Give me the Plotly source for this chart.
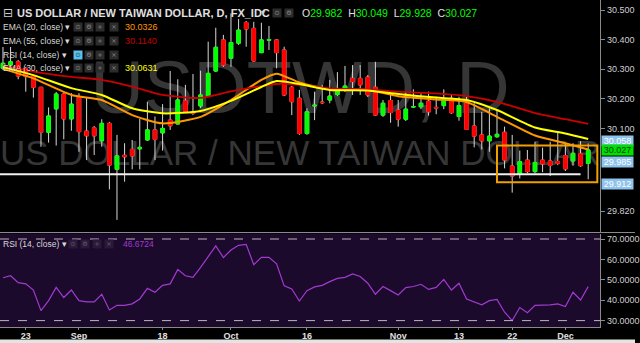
import plotly.graph_objects as go

W, H = 640, 343
PLOT_R = 605  # right edge of plotting area (px)

# ---------------- data ----------------
opens = [30.303, 30.314, 30.325, 30.303, 30.275, 30.239, 30.087, 30.166, 30.216, 30.132,
         30.207, 30.091, 30.102, 30.058, 30.117, 29.962, 30.009, 30.029, 30.031, 30.061,
         30.095, 30.085, 30.128, 30.115, 30.193, 30.156, 30.176, 30.209, 30.294, 30.399,
         30.337, 30.388, 30.458, 30.438, 30.356, 30.398, 30.399, 30.365, 30.239, 30.202,
         30.083, 30.176, 30.189, 30.196, 30.215, 30.230, 30.269, 30.269, 30.273, 30.239,
         30.145, 30.194, 30.162, 30.131, 30.172, 30.173, 30.192, 30.171, 30.177, 30.202,
         30.140, 30.185, 30.108, 30.078, 30.058, 30.072, 30.087, 29.973, 29.946, 29.993,
         29.954, 29.993, 29.990, 29.988, 30.008, 29.990, 30.014, 29.982]
highs = [30.375, 30.375, 30.331, 30.307, 30.280, 30.240, 30.171, 30.223, 30.220, 30.219,
         30.219, 30.205, 30.108, 30.131, 30.122, 30.078, 30.050, 30.061, 30.132, 30.190,
         30.140, 30.182, 30.294, 30.266, 30.247, 30.284, 30.295, 30.393, 30.440, 30.416,
         30.489, 30.470, 30.463, 30.460, 30.457, 30.446, 30.402, 30.376, 30.243, 30.230,
         30.168, 30.224, 30.247, 30.264, 30.290, 30.311, 30.314, 30.314, 30.280, 30.325,
         30.196, 30.219, 30.196, 30.224, 30.232, 30.221, 30.224, 30.207, 30.232, 30.213,
         30.207, 30.207, 30.185, 30.156, 30.168, 30.162, 30.106, 30.078, 30.025, 30.027,
         30.055, 30.035, 30.055, 30.089, 30.050, 30.050, 30.057, 30.049]
lows = [30.297, 30.304, 30.266, 30.224, 30.204, 30.038, 30.052, 30.042, 30.063, 30.092,
        30.021, 29.993, 30.010, 30.038, 29.894, 29.791, 29.920, 29.962, 29.962, 30.058,
        29.993, 30.025, 30.095, 30.113, 30.152, 30.145, 30.169, 30.206, 30.291, 30.308,
        30.308, 30.382, 30.376, 30.325, 30.354, 30.365, 30.303, 30.209, 30.145, 30.078,
        30.078, 30.128, 30.182, 30.185, 30.209, 30.223, 30.213, 30.213, 30.206, 30.142,
        30.139, 30.119, 30.106, 30.125, 30.169, 30.165, 30.143, 30.148, 30.165, 30.149,
        30.126, 30.095, 30.036, 30.029, 30.021, 30.068, 29.965, 29.883, 29.931, 29.949,
        29.949, 29.952, 29.939, 29.976, 29.956, 29.974, 29.970, 29.928]
closes = [30.320, 30.325, 30.277, 30.275, 30.239, 30.087, 30.142, 30.216, 30.132, 30.182,
          30.089, 30.075, 30.075, 30.117, 29.976, 30.007, 30.004, 30.007, 30.036, 30.095,
          30.063, 30.100, 30.109, 30.196, 30.156, 30.151, 30.213, 30.286, 30.374, 30.314,
          30.390, 30.432, 30.436, 30.328, 30.399, 30.400, 30.356, 30.213, 30.190, 30.083,
          30.156, 30.178, 30.187, 30.209, 30.230, 30.243, 30.258, 30.247, 30.213, 30.145,
          30.185, 30.154, 30.131, 30.165, 30.174, 30.185, 30.156, 30.169, 30.198, 30.153,
          30.177, 30.097, 30.074, 30.058, 30.074, 30.080, 29.993, 29.939, 29.988, 29.954,
          29.985, 29.980, 29.975, 29.982, 29.963, 30.016, 29.974, 30.027]
bar_idx = list(range(len(opens)))

ema_k = [0, 4, 9, 13, 17, 21, 26, 30, 34, 36, 39, 43, 48, 52, 57, 61, 65, 70, 74, 77]
ema20 = [30.301, 30.269, 30.213, 30.196, 30.145, 30.117, 30.139, 30.196, 30.264, 30.285,
         30.255, 30.232, 30.230, 30.209, 30.198, 30.189, 30.139, 30.076, 30.050, 30.029]
ema55 = [30.314, 30.292, 30.274, 30.264, 30.241, 30.213, 30.203, 30.225, 30.243, 30.250,
         30.247, 30.235, 30.232, 30.224, 30.218, 30.209, 30.190, 30.152, 30.131, 30.115]
ema30 = [30.307, 30.280, 30.236, 30.213, 30.168, 30.151, 30.159, 30.193, 30.240, 30.260,
         30.250, 30.230, 30.228, 30.216, 30.204, 30.196, 30.162, 30.103, 30.083, 30.064]

rsi = [51.0, 52.0, 48.6, 48.0, 45.0, 34.9, 39.8, 46.3, 41.3, 45.0,
       39.8, 39.2, 39.2, 42.9, 35.2, 37.5, 37.5, 38.2, 40.6, 45.8,
       43.9, 47.3, 48.0, 55.1, 52.0, 51.2, 56.1, 61.3, 66.6, 60.9,
       64.6, 66.9, 67.4, 57.4, 61.0, 61.0, 57.8, 47.0, 45.5, 39.6,
       44.7, 46.5, 47.3, 49.1, 50.7, 51.2, 52.9, 51.6, 48.3, 42.9,
       46.7, 44.7, 42.6, 46.2, 46.7, 47.8, 45.3, 46.3, 50.2, 45.0,
       48.3, 40.6, 39.3, 37.7, 39.8, 40.4, 34.1, 30.0, 36.4, 33.9,
       37.5, 37.5, 37.7, 38.2, 36.9, 43.9, 40.1, 46.67]

xtick_k = [3, 10, 21, 30, 40, 52, 60, 67, 74]
xtick_text = ["23", "Sep", "18", "Oct", "16", "Nov", "13", "22", "Dec"]
price_ticks = [30.5, 30.4, 30.3, 30.2, 30.1, 29.82]
rsi_ticks = [70, 60, 50, 40, 30]
rsi_levels = [70, 30]

support_level = 29.945
support_k = [-0.4, 76]
box_k = [65.0, 78.2]
box_price = [29.918, 30.042]

bubble_vals = [30.058, 30.027, 29.985, 29.912]
bubble_kind = ["blue", "green", "blue", "blue"]

ohlc_labels = ["O", "H", "L", "C"]
ohlc_vals = ["29.982", "30.049", "29.928", "30.027"]
ind_names = ["EMA (20, close)", "EMA (55, close)", "RSI (14, close)", "EMA (30, close)"]
ind_vals = ["30.0326", "30.1140", "", "30.0631"]
ind_colors = ["#ff9800", "#c40000", "#ffffff", "#ffff00"]
rsi_last = "46.6724"

# ---------------- styling ----------------
GREEN = "#00ff00"
RED = "#ff0000"
WICK = "#d8d8d8"
AXC = "#8a8a8a"
TXT = "#d8d8d8"
WM = "#363636"
RSI_C = "#a23ad0"
FONT = "Liberation Sans"

x_range = [-0.392, 78.59]
xdom = [0, PLOT_R / W]
price_dom = [1 - 232 / H, 1]
rsi_dom = [1 - 327 / H, 1 - 233.5 / H]
price_range = [29.75, 30.5338]
rsi_range = [26.86, 72.7]


def px(x):
    return x / W


def py(y):
    return 1 - y / H


fig = go.Figure()

# watermark (base subplot, drawn beneath the overlaying price subplot)
fig.add_trace(go.Scatter(x=[302.5], y=[94], mode="text", text=["USDTWD, D"],
                         textfont=dict(size=74, color=WM, family=FONT),
                         textposition="middle center", hoverinfo="skip",
                         showlegend=False, xaxis="x", yaxis="y"))
fig.add_trace(go.Scatter(x=[302.5], y=[156], mode="text",
                         text=["US DOLLAR / NEW TAIWAN DOLLAR"],
                         textfont=dict(size=35, color=WM, family=FONT),
                         textposition="middle center", hoverinfo="skip",
                         showlegend=False, xaxis="x", yaxis="y"))

# wicks
fig.add_trace(go.Candlestick(
    x=bar_idx, open=opens, high=highs, low=lows, close=closes,
    increasing=dict(line=dict(color=WICK, width=1), fillcolor=GREEN),
    decreasing=dict(line=dict(color=WICK, width=1), fillcolor=RED),
    whiskerwidth=0, hoverinfo="skip", showlegend=False, xaxis="x2", yaxis="y2"))
# bodies
body_hi = [max(o, c) for o, c in zip(opens, closes)]
body_lo = [min(o, c) for o, c in zip(opens, closes)]
fig.add_trace(go.Candlestick(
    x=bar_idx, open=opens, high=body_hi, low=body_lo, close=closes,
    increasing=dict(line=dict(color=GREEN, width=1), fillcolor=GREEN),
    decreasing=dict(line=dict(color=RED, width=1), fillcolor=RED),
    whiskerwidth=0, hoverinfo="skip", showlegend=False, xaxis="x2", yaxis="y2"))

# EMAs
for vals, col, wd in [(ema20, "#ff9800", 2), (ema55, "#cc0000", 1.8), (ema30, "#ffff00", 2)]:
    fig.add_trace(go.Scatter(x=ema_k, y=vals, mode="lines",
                             line=dict(color=col, width=wd, shape="spline", smoothing=0.6),
                             hoverinfo="skip", showlegend=False, xaxis="x2", yaxis="y2"))

# support line
fig.add_trace(go.Scatter(x=support_k, y=[support_level, support_level], mode="lines",
                         line=dict(color="#f0f0f0", width=2), hoverinfo="skip",
                         showlegend=False, xaxis="x2", yaxis="y2"))

# RSI
fig.add_trace(go.Scatter(x=bar_idx, y=rsi, mode="lines", line=dict(color=RSI_C, width=1.2),
                         hoverinfo="skip", showlegend=False, xaxis="x3", yaxis="y3"))

shapes = []
# RSI pane background
shapes.append(dict(type="rect", xref="x3 domain", yref="y3 domain", x0=0, x1=1, y0=0, y1=1,
                   fillcolor="#1b0a2c", line=dict(width=0), layer="below"))
for lv in rsi_levels:
    shapes.append(dict(type="line", xref="x3 domain", yref="y3", x0=0, x1=1, y0=lv, y1=lv,
                       line=dict(color="#b8b8b8", width=1, dash="dash"), layer="above"))
# pane separator
shapes.append(dict(type="line", xref="paper", yref="paper", x0=0, x1=1, y0=py(232.5), y1=py(232.5),
                   line=dict(color=AXC, width=1)))
# bottom light strip
shapes.append(dict(type="rect", xref="paper", yref="paper", x0=0, x1=1, y0=0, y1=py(339.5),
                   fillcolor="#e4e4e4", line=dict(width=0)))
# orange range box
shapes.append(dict(type="rect", xref="x2", yref="y2", x0=box_k[0], x1=box_k[1],
                   y0=box_price[0], y1=box_price[1], line=dict(color="#f0a000", width=2)))

ann = []


def text(t, x, y, size, color, anchor="left", family=FONT, weight="normal", **kw):
    ann.append(dict(text=t, xref="paper", yref="paper", x=px(x), y=py(y), xanchor=anchor,
                    yanchor="middle", showarrow=False,
                    font=dict(size=size, color=color, family=family, weight=weight), **kw))


def icon(x, y, sym, bg="#2c2c2c", fg="#8a8a8a"):
    ann.append(dict(text=sym, xref="paper", yref="paper", x=px(x), y=py(y), xanchor="center",
                    yanchor="middle", showarrow=False, width=8, height=8, bgcolor=bg,
                    borderpad=0, font=dict(size=6.5, color=fg, family="DejaVu Sans")))


# title row
text("⊟", 1, 12.5, 12, "#cfcfcf", family="DejaVu Sans")
text("US DOLLAR / NEW TAIWAN DOLLAR, D, FX_IDC", 15, 12.5, 11, "#e0e0e0", weight="bold")
text("▾", 261, 13, 8, "#cfcfcf", family="DejaVu Sans")
icon(279, 12.5, "⊙")
icon(291, 12.5, "⚙")
ohlc_html = "  ".join(f"{l}<span style='color:{GREEN}'>{v}</span>" for l, v in zip(ohlc_labels, ohlc_vals))
text(ohlc_html, 302, 12.5, 10.5, "#e0e0e0")

rows_y = [26.7, 41, 54.5, 68.5]
for i, (nm, v, c, yy) in enumerate(zip(ind_names, ind_vals, ind_colors, rows_y)):
    text(nm + " ▾", 1, yy, 8.5, TXT)
    icon(78.5, yy, "⊙", bg="#5bc0eb" if i == 2 else "#2c2c2c", fg="#1a3a50" if i == 2 else "#8a8a8a")
    icon(89.5, yy, "⚙")
    icon(101, yy, "+")
    icon(115, yy, "×")
    if v:
        text(v, 124, yy, 9, c)

# RSI legend
text("RSI (14, close) ▾", 1, 244, 8.5, TXT)
icon(74, 244, "⊙", bg="#2a1a38", fg="#6a5a78")
icon(86, 244, "⚙", bg="#2a1a38", fg="#6a5a78")
icon(98, 244, "+", bg="#2a1a38", fg="#6a5a78")
icon(110, 244, "×", bg="#2a1a38", fg="#6a5a78")
text(rsi_last, 122, 244, 8.5, RSI_C)

# price bubbles
for v, k in zip(bubble_vals, bubble_kind):
    if k == "green":
        bg, fg = "#00e000", "#083808"
    else:
        bg, fg = "#8ec3ec", "#ffffff"
    ann.append(dict(text=f"{v:.3f}", xref="paper", yref="y2", x=px(606), y=v, xanchor="left",
                    yanchor="middle", showarrow=False, width=31, height=10, bgcolor=bg,
                    borderpad=0, font=dict(size=9, color=fg, family=FONT)))

fig.update_layout(
    width=W, height=H, margin=dict(l=0, r=0, t=0, b=0),
    paper_bgcolor="#000000", plot_bgcolor="#000000",
    showlegend=False, boxgap=0.33, boxmode="overlay",
    shapes=shapes, annotations=ann,
    xaxis=dict(domain=xdom, range=[0, PLOT_R], visible=False, fixedrange=True),
    yaxis=dict(domain=price_dom, range=[232, 0], visible=False, fixedrange=True),
    xaxis2=dict(overlaying="x", anchor="y2", range=x_range, visible=False,
                rangeslider=dict(visible=False), fixedrange=True),
    yaxis2=dict(overlaying="y", anchor="x2", side="right", range=price_range,
                tickvals=price_ticks, ticktext=[f"{t:.3f}" for t in price_ticks],
                ticks="outside", ticklen=4, tickcolor=AXC, showline=True, linecolor=AXC,
                showgrid=False, zeroline=False, tickfont=dict(size=9, color="#cfcfcf", family=FONT)),
    xaxis3=dict(domain=xdom, anchor="y3", range=x_range, tickvals=xtick_k, ticktext=xtick_text,
                ticks="outside", ticklen=2, tickcolor=AXC, showline=True, linecolor=AXC,
                showgrid=False, zeroline=False, ticklabelstandoff=-2,
                tickfont=dict(size=9, color="#e0e0e0", family=FONT, weight="bold")),
    yaxis3=dict(domain=rsi_dom, anchor="x3", side="right", range=rsi_range,
                tickvals=rsi_ticks, ticktext=[f"{t:.4f}" for t in rsi_ticks],
                ticks="outside", ticklen=4, tickcolor=AXC, showline=True, linecolor=AXC,
                showgrid=False, zeroline=False, tickfont=dict(size=9, color="#cfcfcf", family=FONT)),
)

fig.write_html("out.html")
